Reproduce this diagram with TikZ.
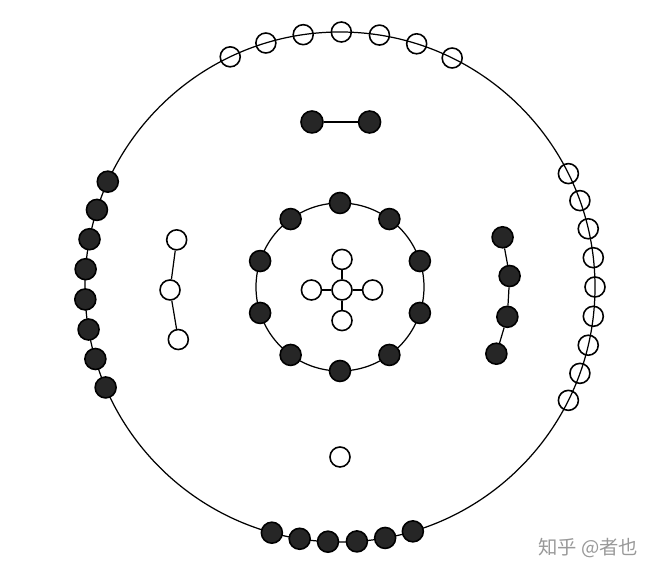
\documentclass[tikz,border=0pt]{standalone}
\usepackage{fontspec}
\usepackage{tikz}
\usetikzlibrary{positioning}
\newfontfamily\cjk{Noto Sans CJK SC}

\begin{document}
\begin{tikzpicture}
  [every node/.style={circle,draw,line width=0.9pt,inner sep=0pt,minimum size=0.4cm},
   full/.style={fill=black!85,minimum size=0.42cm},
   hollow/.style={fill=none},
   wm/.style={rectangle,draw=none,minimum size=0pt,text=black!40,font=\cjk\fontsize{11}{13}\selectfont}]
  \useasboundingbox (-6.8,-5.76) rectangle (6.36,5.74);
  \draw[line width=0.7pt] (0,0) circle (5.1);
  \draw[line width=0.7pt] (0,0) circle (1.68);
  \foreach \a [count=\i] in {115.5,106.9,98.3,89.7,81.1,72.5,63.9}
    \node[hollow] (t\i) at (\a:5.1) {};
  \foreach \a [count=\i] in {26.4,19.8,13.2,6.6,0,-6.6,-13.2,-19.8,-26.4}
    \node[hollow] (e\i) at (\a:5.1) {};
  \foreach \a [count=\i] in {155.6,162.4,169.2,176,182.8,189.6,196.4,203.2}
    \node[full] (w\i) at (\a:5.1) {};
  \foreach \a [count=\i] in {254.5,260.9,267.3,273.8,280.2,286.6}
    \node[full] (b\i) at (\a:5.1) {};
  \foreach \i in {0,...,9}
    \node[full] (c\i) at (90+36*\i:1.68) {};
  \node[hollow] (x0) at (0.04,-0.06) {};
  \node[hollow] (x1) [above=0.18cm of x0] {};
  \node[hollow] (x2) [left=0.18cm of x0] {};
  \node[hollow] (x3) [right=0.18cm of x0] {};
  \node[hollow] (x4) [below=0.18cm of x0] {};
  \node[full,minimum size=0.44cm] (p1) at (-0.56,3.3) {};
  \node[full,minimum size=0.44cm] (p2) [right=0.68cm of p1] {};
  \node[hollow] (l1) at (163.9:3.4) {};
  \node[hollow] (l2) at (181:3.4) {};
  \node[hollow] (l3) at (198:3.4) {};
  \node[full] (r1) at (17:3.4) {};
  \node[full] (r2) at (3.7:3.4) {};
  \node[full] (r3) at (-10.1:3.4) {};
  \node[full] (r4) at (-23.1:3.4) {};
  \node[hollow] (s0) at (-90:3.4) {};
  \node[wm] (z0) at (4.96,-5.22) {知乎 @者也};
  \foreach \from/\to in {x1/x0,x2/x0,x3/x0,x4/x0,p1/p2,l1/l2,l2/l3,r1/r2,r2/r3,r3/r4}
    \draw[line width=0.7pt] (\from) -- (\to);
\end{tikzpicture}
\end{document}
